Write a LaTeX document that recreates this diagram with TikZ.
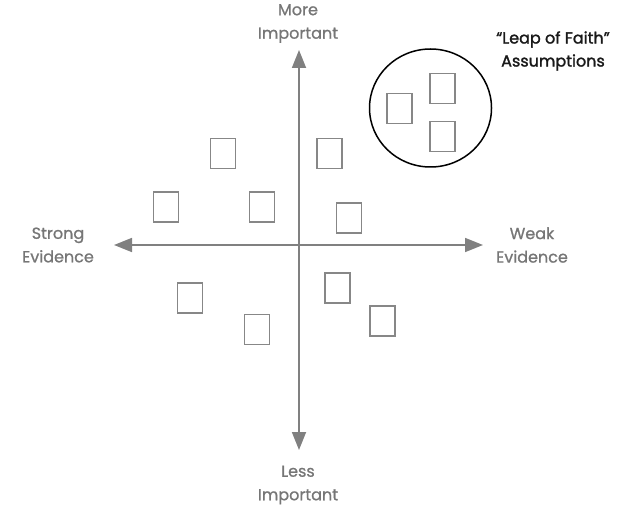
\documentclass[tikz,border=0pt]{standalone}
\usepackage{fontspec}
\setmainfont{Poppins}
\newfontfamily\labelfont{Poppins}[FakeBold=1.0]
\newfontfamily\leapfont{Poppins}[FakeBold=1.6]
\usetikzlibrary{arrows.meta,shapes.geometric}
\definecolor{axisgray}{RGB}{128,128,128}
\definecolor{boxgray}{RGB}{135,135,135}
\definecolor{labelgray}{RGB}{118,118,118}
\begin{document}
\begin{tikzpicture}[x=1pt,y=-1pt,
  card/.style={draw=boxgray,line width=1.6pt,minimum width=25pt,minimum height=30pt,inner sep=0pt},
  axislabel/.style={text=labelgray,align=center,font=\labelfont\fontsize{16}{23.5}\selectfont,inner sep=0pt},
  axisline/.style={draw=axisgray,line width=1.8pt,{Triangle[length=18pt,width=14pt]}-{Triangle[length=18pt,width=14pt]}}]
\useasboundingbox (0,0) rectangle (634,513);
% axes
\coordinate (top) at (299,50);
\coordinate (bottom) at (299,450);
\coordinate (left) at (114,245);
\coordinate (right) at (483,245);
\draw[axisline] (bottom) -- (top);
\draw[axisline] (left) -- (right);
% axis labels
\node[axislabel] (more) at (298,23.5) {More\\Important};
\node[axislabel] (less) at (298,485) {Less\\Important};
\node[axislabel] (strong) at (58,245) {Strong\\Evidence};
\node[axislabel] (weak) at (532,245) {Weak\\Evidence};
% cards
\node[card] (b1) at (223,153.5) {};
\node[card] (b2) at (329.5,153.5) {};
\node[card] (b3) at (166,207) {};
\node[card] (b4) at (262,207) {};
\node[card] (b5) at (349,218) {};
\node[card] (b6) at (190,298) {};
\node[card] (b7) at (257,329.5) {};
\node[card] (b8) at (337.5,288) {};
\node[card] (b9) at (382.5,321) {};
% leap of faith cluster
\node[draw=black,line width=1.5pt,ellipse,minimum width=122pt,minimum height=118pt,inner sep=0pt] (circ) at (430.5,108) {};
\node[card] (c1) at (399.5,108.5) {};
\node[card] (c2) at (442.5,88.5) {};
\node[card] (c3) at (442.5,136.5) {};
\node[text=black!90,align=center,font=\leapfont\fontsize{16}{23}\selectfont,inner sep=0pt] (leap) at (553,51) {“Leap of Faith”\\Assumptions};
\end{tikzpicture}
\end{document}
